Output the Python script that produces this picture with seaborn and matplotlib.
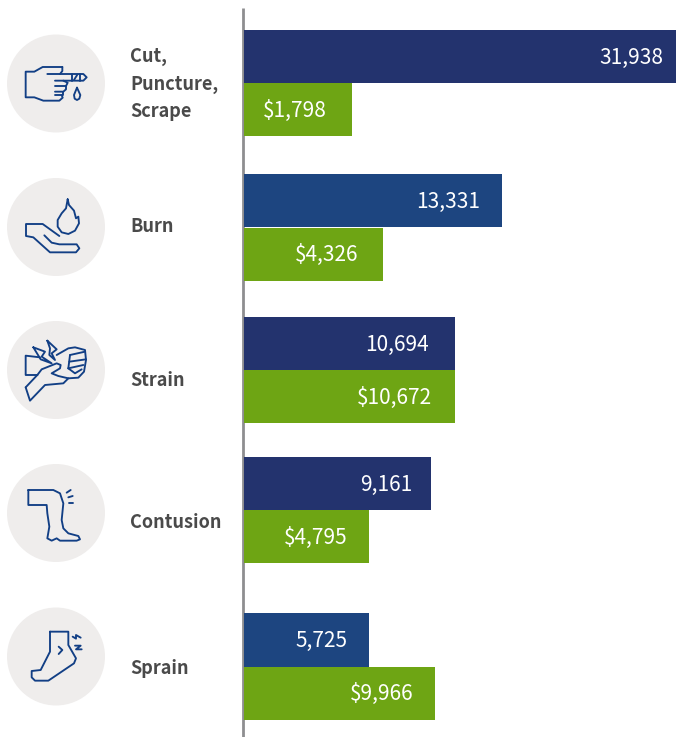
import matplotlib
matplotlib.use('Agg')
import matplotlib.pyplot as plt
from matplotlib.patches import Circle
import pandas as pd
import seaborn as sns

# Data - bar lengths in the source are not to scale with their labels,
# so drawn lengths and printed values are kept separately
CATEGORIES = ['Cut,\nPuncture,\nScrape', 'Burn', 'Strain', 'Contusion', 'Sprain']
COUNT_LABELS = ['31,938', '13,331', '10,694', '9,161', '5,725']
COST_LABELS = ['$1,798', '$4,326', '$10,672', '$4,795', '$9,966']
COUNT_LENGTHS = [432, 258, 211, 187, 125]
COST_LENGTHS = [108, 139, 211, 125, 191]

# Layout, in pixels of the 676x737 image
W, H = 676, 737
AXIS_X = 244
GROUP_TOPS = [30, 174, 317, 457, 613]
GROUP_BOTTOMS = [136, 281, 423, 563, 720]
CIRCLE_Y = [83.5, 227, 370, 513, 656.5]
LABEL_Y = [84, 226, 380, 522, 668]
COUNT_INSET = [13, 22, 26, 19, 22]
COST_INSET = [25, 25, 23, 22, 22]

# Colours
NAVY = '#23336E'
BLUE = '#1D4580'
COUNT_COLORS = [NAVY, BLUE, NAVY, NAVY, BLUE]
GREEN = '#6EA514'
ICON_BLUE = '#123F85'

# Icon outlines, traced at 3x zoom: (origin, list of polylines)
ICONS = [
    ((0, 0), [
        [(187, 201), (128, 201), (103, 215), (77, 215), (77, 292), (103, 292), (130, 302), (178, 302), (188, 293), (185, 285), (165, 285)],
        [(187, 201), (187, 213), (180, 222)],
        [(142, 222), (250, 222), (260, 232), (250, 242), (165, 242)],
        [(215, 222), (215, 242)], [(240, 222), (240, 242)], [(222, 240), (232, 224)],
        [(190, 242), (203, 248), (198, 258), (165, 258)],
        [(198, 258), (198, 268), (190, 275), (165, 275)],
        [(190, 275), (190, 285), (185, 285)],
        [(231, 263), (222, 285), (224, 296), (231, 300), (238, 296), (241, 285), (231, 263)],
    ]),
    ((0, 0), [
        [(203, 598), (207, 615), (222, 632), (228, 655), (235, 650), (237, 670), (225, 692), (205, 702), (185, 697), (173, 680), (173, 660), (185, 640), (198, 625), (203, 598)],
        [(133, 706), (155, 728), (178, 733), (230, 733), (238, 745), (228, 757), (150, 757), (100, 712), (78, 708), (78, 672), (128, 672), (178, 708)],
    ]),
    ((0, 300), [
        [(120, 172), (77, 167), (77, 225), (112, 225)],
        [(112, 225), (125, 208), (170, 190), (182, 195), (180, 205), (155, 220), (175, 228), (205, 235)],
        [(77, 262), (90, 302), (135, 255), (190, 250), (205, 235), (235, 233), (252, 215), (258, 180), (255, 150), (225, 142), (205, 145), (170, 165)],
        [(77, 262), (112, 225)],
        [(210, 165), (255, 155)], [(208, 185), (258, 178)],
        [(205, 205), (250, 195)], [(205, 205), (225, 220), (245, 208)],
        [(210, 165), (205, 205)],
        [(100, 142), (135, 155), (125, 170), (155, 190), (122, 178), (100, 142)],
        [(142, 122), (170, 148), (155, 160), (165, 180), (148, 165), (150, 145), (142, 122)],
    ]),
    ((10, 470), [
        [(55, 60), (130, 60), (150, 70), (160, 100), (155, 150), (160, 175), (175, 190), (205, 198), (210, 208), (200, 212), (150, 212), (140, 205), (125, 212), (112, 205), (118, 170), (112, 130), (110, 105), (55, 105), (55, 60)],
        [(170, 68), (182, 60)], [(175, 82), (188, 78)], [(178, 98), (190, 98)],
    ]),
    ((0, 590), [
        [(150, 125), (205, 125), (205, 165), (228, 205), (222, 220), (145, 272), (105, 272), (95, 262), (95, 243), (122, 240), (150, 185), (150, 125)],
        [(176, 170), (187, 180), (176, 192)],
        [(218, 140), (228, 146), (228, 135), (242, 143)],
        [(225, 167), (242, 167), (228, 178), (245, 178)],
    ]),
]

sns.set_theme(style='white')
plt.rcParams['font.family'] = ['Noto Sans CJK JP', 'DejaVu Sans']

fig = plt.figure(figsize=(W / 100, H / 100), dpi=100, facecolor='white')

# Background axes in pixel units for the rule, circles, icons and category names
bg = fig.add_axes([0, 0, 1, 1])
bg.set_xlim(0, W)
bg.set_ylim(H, 0)
bg.axis('off')
bg.plot([243, 243], [8, H], color='#8E8E90', lw=2.0, solid_capstyle='butt')

for i, cat in enumerate(CATEGORIES):
    bg.add_patch(Circle((56, CIRCLE_Y[i]), 49, fc='#EFEDEC', ec='none'))
    bg.text(130, LABEL_Y[i], cat, color='#4A4A4A', fontsize=13, fontweight='bold',
            ha='left', va='center', linespacing=1.55)
    (ox, oy), lines = ICONS[i]
    for line in lines:
        bg.plot([ox + p[0] / 3 for p in line], [oy + p[1] / 3 for p in line],
                color=ICON_BLUE, lw=1.35, solid_joinstyle='round', solid_capstyle='round')

# One axes per group since the gaps between groups are uneven
for i in range(len(CATEGORIES)):
    top, bottom = GROUP_TOPS[i], GROUP_BOTTOMS[i]
    ax = fig.add_axes([AXIS_X / W, 1 - bottom / H, (W - AXIS_X) / W, (bottom - top) / H])
    df = pd.DataFrame({'series': ['count', 'cost'],
                       'length': [COUNT_LENGTHS[i], COST_LENGTHS[i]]})
    sns.barplot(data=df, x='length', y='series', hue='series', ax=ax, width=1, saturation=1,
                palette={'count': COUNT_COLORS[i], 'cost': GREEN}, legend=False, linewidth=0)
    ax.set_xlim(0, W - AXIS_X)
    ax.set_ylim(1.5, -0.5)
    ax.axis('off')
    ax.patch.set_alpha(0)
    ax.text(COUNT_LENGTHS[i] - COUNT_INSET[i], 0.02, COUNT_LABELS[i], color='white',
            fontsize=15, ha='right', va='center')
    ax.text(COST_LENGTHS[i] - COST_INSET[i], 1.02, COST_LABELS[i], color='white',
            fontsize=15, ha='right', va='center')

plt.savefig('out.png', dpi=100)
